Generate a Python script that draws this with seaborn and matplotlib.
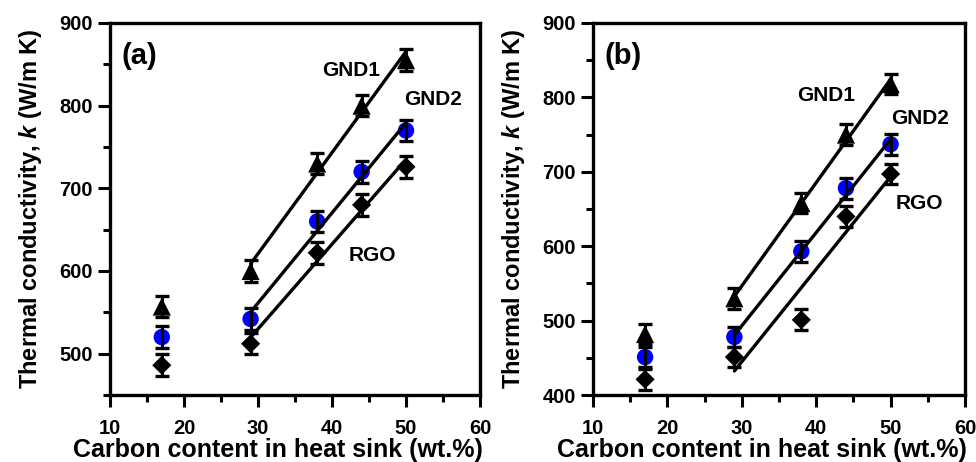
import numpy as np
import pandas as pd
import matplotlib
matplotlib.use('Agg')
import matplotlib.pyplot as plt
import seaborn as sns
from matplotlib.ticker import MultipleLocator

# --- Data ---
carbon = [17, 29, 38, 44, 50]

# panel (a)
a_gnd1 = [557, 600, 730, 800, 855]
a_gnd2 = [520, 542, 660, 720, 770]
a_rgo = [486, 512, 622, 680, 726]
a_err = [13, 13, 13, 13, 13]

# panel (b)
b_gnd1 = [482, 530, 658, 750, 818]
b_gnd2 = [451, 478, 593, 678, 737]
b_rgo = [421, 451, 501, 640, 697]
b_err = [14, 14, 14, 14, 14]

FIT_FROM = 29  # linear fits only over the upper composition range

sns.set_theme(style='ticks')
plt.rcParams['font.family'] = ['Liberation Sans', 'DejaVu Sans']
plt.rcParams['font.weight'] = 'bold'
plt.rcParams['axes.labelweight'] = 'bold'
for key in ['text.color', 'axes.labelcolor', 'xtick.color', 'ytick.color', 'axes.edgecolor']:
    plt.rcParams[key] = 'black'
plt.rcParams['mathtext.fontset'] = 'custom'
plt.rcParams['mathtext.bfit'] = 'Liberation Sans:bold:italic'

series_style = {
    'GND1': dict(marker='^', color='black', s=170),
    'GND2': dict(marker='o', color='#0000ff', s=140),
    'RGO': dict(marker='D', color='black', s=95),
}


def draw_panel(ax, values, err, ylim, label, text_pos):
    for name, y in values.items():
        df = pd.DataFrame({'x': carbon, 'y': y})
        st = series_style[name]
        sns.scatterplot(data=df, x='x', y='y', marker=st['marker'], color=st['color'],
                        s=st['s'], edgecolor='none', ax=ax, zorder=2, legend=False)
        ax.errorbar(df['x'], df['y'], yerr=err, fmt='none', ecolor='black',
                    elinewidth=2.2, capsize=5, capthick=2.4, zorder=3)
        fit = df[df['x'] >= FIT_FROM]
        sns.regplot(data=fit, x='x', y='y', scatter=False, ci=None, truncate=True,
                    color='black', line_kws={'lw': 2.4, 'zorder': 4}, ax=ax)
        tx, ty = text_pos[name]
        ax.text(tx, ty, name, fontsize=15, fontweight='bold', ha='center', va='center')

    ax.text(14, ylim[1] - 40 * (ylim[1] - ylim[0]) / 450, label, fontsize=21,
            fontweight='bold', ha='center', va='center')
    ax.set_xlim(10, 60)
    ax.set_ylim(*ylim)
    ax.xaxis.set_major_locator(MultipleLocator(10))
    ax.xaxis.set_minor_locator(MultipleLocator(5))
    ax.yaxis.set_major_locator(MultipleLocator(100))
    ax.yaxis.set_minor_locator(MultipleLocator(50))
    ax.tick_params(which='major', length=8.5, width=2.2, labelsize=14.5)
    ax.tick_params(which='minor', length=5, width=2.2)
    ax.tick_params(axis='x', which='major', pad=9)
    ax.tick_params(axis='y', which='major', pad=4)
    for sp in ax.spines.values():
        sp.set_visible(True)
        sp.set_linewidth(2.4)
    for t in ax.get_xticklabels() + ax.get_yticklabels():
        t.set_fontweight('bold')
    ax.set_xlabel('Carbon content in heat sink (wt.%)', fontsize=18, fontweight='bold')
    ax.xaxis.label.set_verticalalignment('baseline')
    ax.xaxis.set_label_coords(0.455, -62 / 372)
    ax.set_ylabel(r'Thermal conductivity, $\boldsymbol{k}$ (W/m K)', fontsize=17,
                  fontweight='bold', labelpad=11)


fig = plt.figure(figsize=(9.76, 4.62), dpi=100)
ax_a = fig.add_axes([110 / 976, 67 / 462, 370 / 976, 372 / 462])
ax_b = fig.add_axes([593 / 976, 67 / 462, 372 / 976, 372 / 462])

draw_panel(ax_a, {'GND1': a_gnd1, 'GND2': a_gnd2, 'RGO': a_rgo}, a_err, (450, 900), '(a)',
           {'GND1': (42.6, 842), 'GND2': (53.6, 807), 'RGO': (45.5, 619)})
draw_panel(ax_b, {'GND1': b_gnd1, 'GND2': b_gnd2, 'RGO': b_rgo}, b_err, (400, 900), '(b)',
           {'GND1': (41.4, 802), 'GND2': (53.9, 771), 'RGO': (53.9, 657)})

fig.savefig('out.png', dpi=100)
